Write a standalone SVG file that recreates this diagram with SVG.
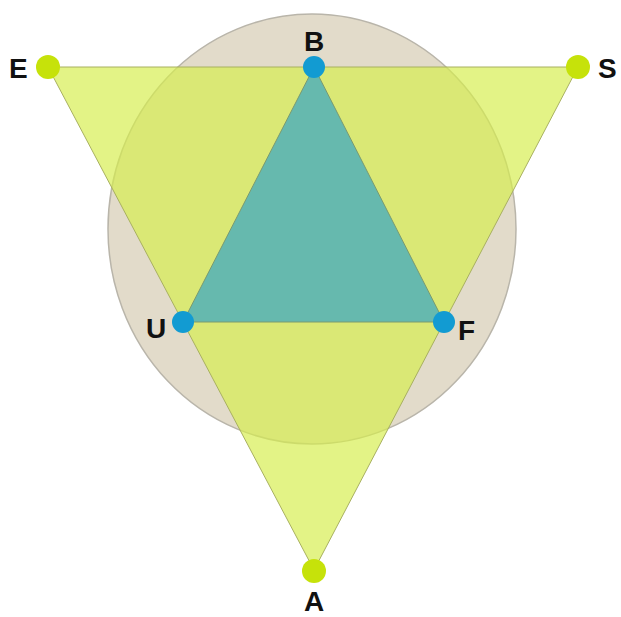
<svg xmlns="http://www.w3.org/2000/svg" width="621" height="617" viewBox="0 0 621 617">
<style>
.lbl{font-family:"Liberation Sans",Arial,sans-serif;font-size:28px;font-weight:bold;fill:#111}
.gdot{fill:#c6e20a}
.bdot{fill:#129bd2}
</style>
<rect width="621" height="617" fill="#fff"/>
<g id="circle"><ellipse cx="312" cy="229" rx="204" ry="215" fill="#e2dbca" stroke="#b9b5aa" stroke-width="1.5"/></g>
<g id="outer-triangle"><polygon points="48,67 578,67 314,570" fill="#d6ee4c" fill-opacity="0.68" stroke="#a8b060" stroke-width="1"/></g>
<g id="inner-triangle"><polygon points="314,67 183,322 444,322" fill="#66b9ae" stroke="#7a9a70" stroke-width="1"/></g>
<g id="connectors"></g>
<g id="node-E"><circle class="gdot" cx="48" cy="67" r="12"/><text class="lbl" x="9" y="78">E</text></g>
<g id="node-S"><circle class="gdot" cx="578" cy="67" r="12"/><text class="lbl" x="598" y="78">S</text></g>
<g id="node-A"><circle class="gdot" cx="314" cy="571" r="12"/><text class="lbl" x="314" y="611" text-anchor="middle">A</text></g>
<g id="node-B"><circle class="bdot" cx="314" cy="67" r="11"/><text class="lbl" x="314" y="51" text-anchor="middle">B</text></g>
<g id="node-U"><circle class="bdot" cx="183" cy="322" r="11"/><text class="lbl" x="146" y="338">U</text></g>
<g id="node-F"><circle class="bdot" cx="444" cy="322" r="11"/><text class="lbl" x="458" y="340">F</text></g>
</svg>
